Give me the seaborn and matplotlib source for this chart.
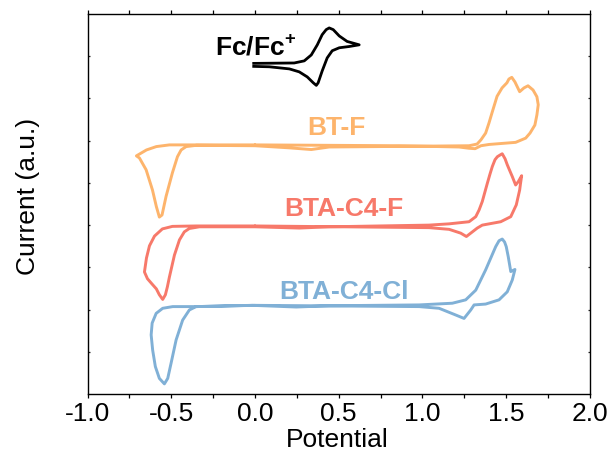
import numpy as np
import pandas as pd
import matplotlib
matplotlib.use("Agg")
import matplotlib.pyplot as plt
from matplotlib.ticker import MultipleLocator
import seaborn as sns

# ---------------- data ----------------
btf_potential = [0.00, -0.350, -0.511, -0.589, -0.648, -0.708, -0.690, -0.650, -0.612, -0.589,
                 -0.571, -0.555, -0.531, -0.493, -0.463, -0.441, -0.411, -0.350, 0.00, 0.205,
                 0.336, 0.443, 0.741, 1.278, 1.326, 1.349, 1.377, 1.397, 1.415, 1.445,
                 1.475, 1.504, 1.516, 1.533, 1.552, 1.580, 1.606, 1.630, 1.660, 1.683,
                 1.691, 1.683, 1.671, 1.642, 1.616, 1.556, 1.397, 1.349, 1.314, 1.278,
                 1.218, 0.860, 0.00]
btf_current = [5.90, 5.90, 5.90, 5.86, 5.78, 5.64, 5.59, 5.31, 4.83, 4.44,
               4.19, 4.24, 4.68, 5.24, 5.62, 5.78, 5.86, 5.89, 5.88, 5.83,
               5.79, 5.85, 5.86, 5.88, 5.92, 6.02, 6.18, 6.42, 6.66, 7.05,
               7.25, 7.37, 7.46, 7.50, 7.39, 7.16, 7.25, 7.30, 7.20, 7.04,
               6.85, 6.61, 6.37, 6.18, 6.06, 5.96, 5.91, 5.88, 5.81, 5.82,
               5.85, 5.88, 5.90]

btac4f_potential = [0.00, -0.352, -0.493, -0.553, -0.600, -0.630, -0.648, -0.660, -0.642, -0.618,
                    -0.589, -0.571, -0.551, -0.535, -0.523, -0.511, -0.481, -0.451, -0.422, -0.392,
                    -0.332, 0.00, 0.264, 0.443, 1.039, 1.159, 1.278, 1.318, 1.338, 1.357,
                    1.373, 1.387, 1.403, 1.417, 1.433, 1.447, 1.463, 1.476, 1.493, 1.506,
                    1.522, 1.536, 1.556, 1.572, 1.592, 1.585, 1.580, 1.560, 1.527, 1.467,
                    1.357, 1.327, 1.288, 1.262, 1.228, 1.159, 1.039, 0.00]
btac4f_current = [3.98, 3.98, 3.97, 3.91, 3.74, 3.51, 3.22, 2.89, 2.73, 2.62,
                  2.49, 2.35, 2.24, 2.35, 2.54, 2.77, 3.29, 3.65, 3.84, 3.92,
                  3.96, 3.96, 3.93, 3.96, 4.00, 4.03, 4.08, 4.20, 4.36, 4.56,
                  4.79, 4.99, 5.21, 5.39, 5.55, 5.62, 5.66, 5.69, 5.57, 5.43,
                  5.28, 5.15, 4.95, 5.03, 5.17, 4.98, 4.83, 4.48, 4.20, 4.08,
                  4.00, 3.93, 3.81, 3.73, 3.81, 3.90, 3.94, 3.98]

btac4cl_potential = [0.00, -0.352, -0.491, -0.551, -0.590, -0.614, -0.620, -0.611, -0.595, -0.571,
                     -0.541, -0.521, -0.501, -0.471, -0.432, -0.392, -0.352, -0.016, 0.246, 0.443,
                     0.980, 1.178, 1.258, 1.318, 1.377, 1.437, 1.457, 1.476, 1.490, 1.500,
                     1.512, 1.527, 1.552, 1.536, 1.506, 1.457, 1.377, 1.308, 1.288, 1.248,
                     1.199, 1.099, 0.980, 0.00]
btac4cl_current = [2.10, 2.07, 2.07, 2.03, 1.91, 1.68, 1.40, 1.04, 0.65, 0.37,
                   0.24, 0.37, 0.73, 1.28, 1.75, 1.99, 2.07, 2.10, 2.06, 2.09,
                   2.11, 2.15, 2.23, 2.46, 2.94, 3.49, 3.63, 3.67, 3.60, 3.49,
                   3.25, 2.90, 2.95, 2.70, 2.42, 2.23, 2.13, 2.11, 1.99, 1.79,
                   1.87, 2.03, 2.07, 2.10]

fc_potential = [-0.016, 0.234, 0.294, 0.336, 0.372, 0.401, 0.425, 0.443, 0.467, 0.503,
                0.550, 0.622, 0.562, 0.503, 0.461, 0.431, 0.401, 0.377, 0.366, 0.348,
                0.312, 0.264, 0.205, 0.085, -0.016]
fc_current = [7.83, 7.84, 7.89, 8.03, 8.27, 8.51, 8.63, 8.67, 8.63, 8.48,
              8.35, 8.27, 8.23, 8.20, 8.13, 7.96, 7.65, 7.37, 7.31, 7.37,
              7.51, 7.63, 7.70, 7.75, 7.76]

series_names = ["BT-F", "BTA-C4-F", "BTA-C4-Cl"]
series_colors = ["#FDB46C", "#F7796A", "#80B0D6"]
x_ticks = [-1.0, -0.5, 0.0, 0.5, 1.0, 1.5, 2.0]

# ---------------- figure ----------------
sns.set_theme(style="ticks")
plt.rcParams['font.family'] = ['Liberation Sans', 'DejaVu Sans']
plt.rcParams['mathtext.fontset'] = 'custom'
plt.rcParams['mathtext.rm'] = 'Liberation Sans'
plt.rcParams['mathtext.bf'] = 'Liberation Sans:bold'

fig = plt.figure(figsize=(6.11, 4.54), dpi=100)
ax = fig.add_axes([87.5 / 611, 1 - 394 / 454, 502.5 / 611, 380 / 454])

curves = [(btf_potential, btf_current), (btac4f_potential, btac4f_current),
          (btac4cl_potential, btac4cl_current)]
for (pot, cur), name, col in zip(curves, series_names, series_colors):
    df = pd.DataFrame({"Potential": pot, "Current": cur})
    sns.lineplot(data=df, x="Potential", y="Current", sort=False, estimator=None,
                 color=col, lw=2.1, ax=ax, solid_joinstyle='round',
                 solid_capstyle='round')

df_fc = pd.DataFrame({"Potential": fc_potential, "Current": fc_current})
sns.lineplot(data=df_fc, x="Potential", y="Current", sort=False, estimator=None,
             color="black", lw=2.0, ax=ax, solid_joinstyle='round',
             solid_capstyle='butt')

# labels on curves
label_pos = [(0.485, 6.13), (0.53, 4.22), (0.53, 2.26)]
for (lx, ly), name, col in zip(label_pos, series_names, series_colors):
    ax.text(lx, ly, name, color=col, fontsize=19, fontweight='bold',
            ha='center', va='baseline')
ax.text(-0.237, 8.03, r"Fc/Fc$^{\mathbf{+}}$", color='black', fontsize=19,
        fontweight='bold', ha='left', va='baseline')

ax.set_xlim(-1.0, 2.0)
ax.set_ylim(0, 9)
ax.set_xticks(x_ticks)
ax.set_xticklabels([f"{t:.1f}" for t in x_ticks])
ax.xaxis.set_minor_locator(MultipleLocator(0.25))
ax.set_yticks(range(1, 9))
ax.set_yticklabels([])

for sp in ax.spines.values():
    sp.set_visible(True)
    sp.set_linewidth(1.0)
    sp.set_color('black')

ax.tick_params(axis='x', which='both', direction='out', length=3, width=0.9,
               top=True, labeltop=False, labelsize=19, pad=3, colors='black')
ax.tick_params(axis='y', which='both', direction='in', length=1.5, width=0.9,
               left=True, right=True, labelleft=False)

ax.set_xlabel("Potential", fontsize=19, color='black')
ax.set_ylabel("Current (a.u.)", fontsize=19, color='black')
ax.xaxis.set_label_coords(0.4975, -0.0895)
ax.yaxis.set_label_coords(-0.0945, 0.52)
ax.set_facecolor('white')
fig.patch.set_facecolor('white')

fig.savefig("out.png", dpi=100)
